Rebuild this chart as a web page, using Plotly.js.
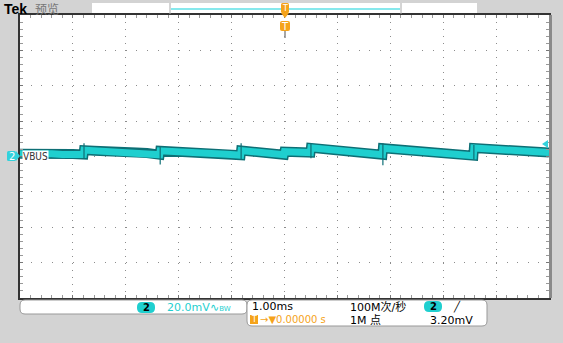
<!DOCTYPE html>
<html><head><meta charset="utf-8">
<script src="https://cdn.plot.ly/plotly-3.0.1.min.js"></script>
<style>html,body{margin:0;padding:0;background:#d3d3d3;}#chart{width:563px;height:343px;}</style>
</head><body><div id="chart"></div>
<script>
// ---- data (time in ms, VBUS in mV, AC view at 20 mV/div, 1 ms/div) ----
const timeMs = [-5,-4.8,-4.6,-4.4,-4.2,-4.0,-3.80,
  -3.79,-3.6,-3.4,-3.2,-3.0,-2.8,-2.6,-2.45,-2.36,
  -2.35,-2.1,-1.9,-1.7,-1.5,-1.3,-1.1,-0.95,-0.83,
  -0.82,-0.65,-0.5,-0.35,-0.2,-0.01,
  0,0.15,0.3,0.49,
  0.50,0.7,0.9,1.1,1.3,1.5,1.7,1.85,
  1.86,2.05,2.3,2.55,2.8,3.0,3.2,3.4,3.57,
  3.58,3.8,4.0,4.25,4.5,4.75,5.0];
const vbusMv = [1.6,1.8,1.4,1.6,1.2,1.4,1.1,
  3.6,3.3,3.4,2.9,2.8,2.3,2.0,1.3,1.0,
  3.2,3.0,2.6,2.7,2.1,1.8,1.3,1.0,0.7,
  3.4,3.0,2.6,2.1,1.5,1.0,
  2.7,2.4,2.6,2.2,
  4.9,4.4,4.0,3.5,3.1,2.4,1.7,1.0,
  4.7,4.2,3.8,3.1,2.6,2.0,1.4,0.8,0.5,
  4.8,4.3,4.0,3.5,3.1,2.5,2.2];
const spikeTimeMs = [-3.79,-2.35,-0.82,0.50,1.86,3.58];
const spikeHighMv = [7.5,6.0,7.5,7.0,7.5,6.5];
const spikeLowMv  = [-1.0,-4.5,-1.5,-1.0,-5.0,-1.5];
const xTicksMs = [-5,-4,-3,-2,-1,0,1,2,3,4,5];
const yTicksMv = [-80,-60,-40,-20,0,20,40,60,80];
const channelLabel = "VBUS";
const vScale = "20.0mV", hScale = "1.00ms", sampleRate = "100M次/秒", recLen = "1M 点";
const trigDelay = "0.00000 s", trigLevel = "3.20mV";

// ---- layout helpers (pixel -> paper) ----
const L=20,R=549,T=15,B=298;
const px = x => (x-L)/(R-L);
const py = y => (B-y)/(B-T);
function rrect(x0,y0,x1,y1,r){
  const a=px(x0),b=px(x1),c=py(y0),d=py(y1),rx=r/(R-L),ry=r/(B-T);
  return `M${a+rx},${c} L${b-rx},${c} Q${b},${c} ${b},${c-ry} L${b},${d+ry} Q${b},${d} ${b-rx},${d} L${a+rx},${d} Q${a},${d} ${a},${d+ry} L${a},${c-ry} Q${a},${c} ${a+rx},${c} Z`;
}
const spikeX=[], spikeY=[];
spikeTimeMs.forEach((t,i)=>{spikeX.push(t,t,null);spikeY.push(spikeLowMv[i],spikeHighMv[i],null);});

const cyan='#1fcfcf', teal='#0e6f75', orange='#f5a31a';
const font="DejaVu Sans, Noto Sans CJK SC, sans-serif";
const traces=[
  {x:timeMs,y:vbusMv,mode:'lines',line:{color:teal,width:10},hoverinfo:'skip'},
  {x:timeMs,y:vbusMv,mode:'lines',line:{color:cyan,width:7},hoverinfo:'skip'},
  {x:spikeX,y:spikeY,mode:'lines',line:{color:teal,width:1.2},hoverinfo:'skip'}
];
function ann(x,y,text,opt){return Object.assign({xref:'paper',yref:'paper',x:px(x),y:py(y),text:text,showarrow:false,xanchor:'left',yanchor:'middle',font:{family:font,size:11,color:'#000'}},opt||{});}
const shapes=[
  {type:'rect',xref:'paper',yref:'paper',x0:px(92),x1:px(477),y0:py(3),y1:py(14),fillcolor:'#fff',line:{width:0},layer:'below'},
  {type:'line',xref:'paper',yref:'paper',x0:px(171),x1:px(400),y0:py(9),y1:py(9),line:{color:'#5ee0e6',width:1.5}},
  {type:'line',xref:'paper',yref:'paper',x0:px(170),x1:px(170),y0:py(3),y1:py(14),line:{color:'#aaa',width:1}},
  {type:'line',xref:'paper',yref:'paper',x0:px(401),x1:px(401),y0:py(3),y1:py(14),line:{color:'#aaa',width:1}},
  {type:'rect',xref:'paper',yref:'paper',x0:px(549),x1:px(552),y0:py(15),y1:py(298),fillcolor:'#8a8a8a',line:{width:0}},
  {type:'line',xref:'paper',yref:'paper',x0:px(285),x1:px(285),y0:py(30),y1:py(38),line:{color:'#888',width:1.5}},
  {type:'path',xref:'paper',yref:'paper',path:rrect(281,3,289,13,1.5),fillcolor:orange,line:{width:0}},
  {type:'path',xref:'paper',yref:'paper',path:`M${px(281)},${py(13)} L${px(289)},${py(13)} L${px(285)},${py(18)} Z`,fillcolor:orange,line:{width:0}},
  {type:'path',xref:'paper',yref:'paper',path:rrect(280,21,290,31,2),fillcolor:orange,line:{width:0}},
  {type:'path',xref:'paper',yref:'paper',path:rrect(7,151,16,161,1.5),fillcolor:'#33d2dc',line:{width:0}},
  {type:'path',xref:'paper',yref:'paper',path:`M${px(16)},${py(151)} L${px(20)},${py(156)} L${px(16)},${py(161)} Z`,fillcolor:'#33d2dc',line:{width:0}},
  {type:'path',xref:'paper',yref:'paper',path:`M${px(548)},${py(140)} L${px(542)},${py(144)} L${px(548)},${py(148)} Z`,fillcolor:'#33d2dc',line:{width:0}},
  {type:'path',xref:'paper',yref:'paper',path:rrect(20,300,247,314,5),fillcolor:'#fff',line:{color:'#999',width:1}},
  {type:'path',xref:'paper',yref:'paper',path:rrect(247,300,487,326,5),fillcolor:'#fff',line:{color:'#999',width:1}},
  {type:'path',xref:'paper',yref:'paper',path:rrect(137,302,155,313,5),fillcolor:cyan,line:{width:0}},
  {type:'path',xref:'paper',yref:'paper',path:rrect(424,301,442,312,5),fillcolor:cyan,line:{width:0}},
  {type:'rect',xref:'paper',yref:'paper',x0:px(250),x1:px(258),y0:py(315),y1:py(324),fillcolor:orange,line:{width:0}}
];
const annotations=[
  ann(2,9,"<b>Tek</b>",{font:{family:"Liberation Sans, Arial, sans-serif",size:14,color:'#000'}}),
  ann(33,9,"预览",{font:{family:font,size:12,color:'#777'}}),
  ann(285,8,"T",{xanchor:'center',font:{family:font,size:8,color:'#fff'}}),
  ann(285,26,"T",{xanchor:'center',font:{family:font,size:10,color:'#fff'}}),
  ann(11.5,156,"2",{xanchor:'center',font:{family:font,size:10,color:'#fff'}}),
  ann(22,156,channelLabel,{font:{family:"DejaVu Sans Condensed, DejaVu Sans, sans-serif",size:10,color:'#333'},bgcolor:'#fff',borderpad:0}),
  ann(146,307.5,"<b>2</b>",{xanchor:'center',font:{family:font,size:10,color:'#000'}}),
  ann(165,307.5,vScale,{font:{family:font,size:11,color:cyan}}),
  ann(208,307.5,"∿<span style='font-size:7px'>BW</span>",{font:{family:font,size:11,color:cyan}}),
  ann(250,306.5,hScale),
  ann(348,306.5,sampleRate),
  ann(433,306.5,"<b>2</b>",{xanchor:'center',font:{family:font,size:10,color:'#000'}}),
  ann(451,306.5,"╱",{font:{family:font,size:10,color:'#000'}}),
  ann(254,319.5,"T",{xanchor:'center',font:{family:font,size:8,color:'#fff'}}),
  ann(258,319.5,"→▼"+trigDelay,{font:{family:font,size:10,color:orange}}),
  ann(348,320.5,recLen),
  ann(428,320.5,trigLevel)
];
const layout={
  width:563,height:343,margin:{l:20,r:14,t:15,b:45},
  paper_bgcolor:'#d3d3d3',plot_bgcolor:'#fff',showlegend:false,
  xaxis:{range:[-5,5],tickvals:xTicksMs,showticklabels:false,showgrid:true,gridcolor:'#8c8c8c',griddash:'1px,6.08px',gridwidth:1,
    zeroline:false,showline:true,linecolor:'#333',linewidth:2,mirror:'allticks',ticks:'inside',ticklen:3,tickcolor:'#777',
    minor:{dtick:0.2,ticks:'inside',ticklen:3,tickcolor:'#999',showgrid:false}},
  yaxis:{range:[-80,80],tickvals:yTicksMv,showticklabels:false,showgrid:true,gridcolor:'#8c8c8c',griddash:'1px,9.58px',gridwidth:1,
    zeroline:false,showline:true,linecolor:'#333',linewidth:2,mirror:'allticks',ticks:'inside',ticklen:3,tickcolor:'#777',
    minor:{dtick:4,ticks:'inside',ticklen:3,tickcolor:'#999',showgrid:false}},
  shapes:shapes,annotations:annotations
};
Plotly.newPlot('chart',traces,layout,{staticPlot:true,displayModeBar:false});
</script></body></html>
